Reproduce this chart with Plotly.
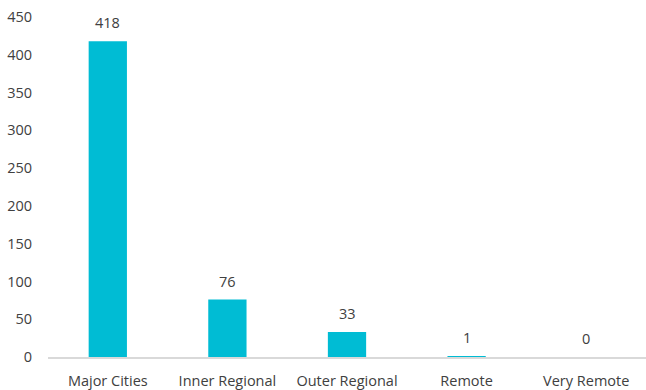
import plotly.graph_objects as go

categories = ["Major Cities", "Inner Regional", "Outer Regional", "Remote", "Very Remote"]
counts = [418, 76, 33, 1, 0]
y_ticks = [0, 50, 100, 150, 200, 250, 300, 350, 400, 450]

bar_color = "#00BCD4"
text_color = "#404040"
font_family = "'Open Sans', Lato, sans-serif"

fig = go.Figure(
    go.Bar(
        x=categories,
        y=counts,
        marker=dict(color=bar_color, line=dict(width=0)),
        width=0.32,
        hoverinfo="x+y",
    )
)

# Value labels above each bar
for cat, val in zip(categories, counts):
    fig.add_annotation(
        x=cat, y=val, text=str(val), showarrow=False,
        yanchor="bottom", yshift=7,
        font=dict(family=font_family, size=14.5, color=text_color),
    )

fig.update_layout(
    width=646, height=390,
    margin=dict(l=48, r=0, t=17, b=30),
    plot_bgcolor="white", paper_bgcolor="white",
    showlegend=False,
    font=dict(family=font_family, size=14.5, color=text_color),
)
fig.update_xaxes(
    showgrid=False, showline=True, linecolor="#d9d9d9", linewidth=2,
    layer="above traces",
    ticks="", ticklabelstandoff=10,
    tickfont=dict(family=font_family, size=14.5, color=text_color),
)
fig.update_yaxes(
    range=[0, 450], tickvals=y_ticks, showgrid=False, zeroline=False,
    showline=False, ticks="", ticklabelstandoff=15,
    tickfont=dict(family=font_family, size=14.5, color=text_color),
)

fig.write_html("out.html")
